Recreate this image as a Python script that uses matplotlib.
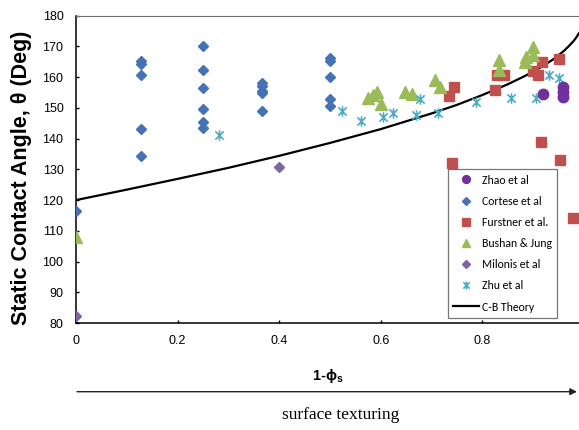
import numpy as np
import matplotlib
matplotlib.use("Agg")
import matplotlib.pyplot as plt
from matplotlib.path import Path

plt.rcParams['font.family'] = ['Liberation Sans', 'DejaVu Sans']
plt.rcParams['mathtext.fontset'] = 'custom'
plt.rcParams['mathtext.bf'] = 'Liberation Sans:bold'
plt.rcParams['mathtext.rm'] = 'Liberation Sans:bold'

# measured contact angles vs 1-phi_s
zhao_x = [0.920, 0.959, 0.959, 0.959]
zhao_y = [154.5, 156.8, 155.2, 153.6]

cortese_x = [0.0, 0.127, 0.127, 0.127, 0.127, 0.127,
             0.250, 0.250, 0.250, 0.250, 0.250, 0.250,
             0.367, 0.367, 0.367, 0.367, 0.367,
             0.500, 0.500, 0.500, 0.500, 0.500]
cortese_y = [116.3, 165.1, 164.3, 160.7, 143.0, 134.2,
             170.2, 162.4, 156.6, 149.7, 145.5, 143.3,
             158.2, 157.0, 155.6, 154.8, 149.0,
             166.2, 165.3, 160.2, 153.0, 150.5]

furstner_x = [0.743, 0.735, 0.825, 0.828, 0.843, 0.900, 0.910,
              0.918, 0.950, 0.915, 0.953, 0.741, 0.979]
furstner_y = [156.8, 153.9, 155.8, 160.8, 160.8, 162.0, 160.7,
              164.8, 165.8, 139.0, 132.9, 132.0, 114.1]

bushan_x = [0.0, 0.575, 0.584, 0.593, 0.600, 0.648, 0.662, 0.707,
            0.717, 0.833, 0.833, 0.883, 0.886, 0.900, 0.900]
bushan_y = [108.0, 153.1, 154.2, 155.3, 151.3, 155.3, 154.4, 159.1,
            156.9, 165.6, 162.3, 165.0, 166.7, 169.9, 167.2]

milonis_x = [0.0, 0.400]
milonis_y = [82.2, 130.9]

zhu_x = [0.281, 0.524, 0.560, 0.604, 0.623, 0.669, 0.677, 0.713,
         0.787, 0.856, 0.905, 0.930, 0.950]
zhu_y = [141.2, 149.1, 145.8, 146.9, 148.2, 147.7, 152.8, 148.2,
         152.0, 153.1, 153.1, 160.7, 159.6]

# Cassie-Baxter curve (flat surface angle 120 deg)
cb_x = [0.0, 0.1, 0.2, 0.3, 0.4, 0.5, 0.6, 0.7, 0.75, 0.8, 0.85, 0.88,
        0.9, 0.92, 0.93, 0.94, 0.95, 0.96, 0.97, 0.975, 0.98, 0.985, 0.99]
cb_y = [120.0, 123.4, 126.9, 130.5, 134.4, 138.6, 143.1, 148.2, 151.0,
        154.2, 157.7, 160.1, 161.8, 163.7, 164.8, 165.9, 167.2, 168.5,
        170.1, 171.0, 171.9, 173.0, 174.3]

# asterisk marker: X with a vertical bar
star = Path([(-1, -1), (1, 1), (-1, 1), (1, -1), (0, -1.25), (0, 1.25)],
            [Path.MOVETO, Path.LINETO, Path.MOVETO, Path.LINETO,
             Path.MOVETO, Path.LINETO])

W, H = 579, 430
fig = plt.figure(figsize=(W / 100, H / 100), dpi=100)
ax = fig.add_axes([76 / W, 1 - 323 / H, (W - 76) / W, (323 - 15.7) / H])

ax.plot(zhao_x, zhao_y, 'o', ms=7.5, color='#7030A0', mec='#7030A0', label='Zhao et al', zorder=4)
ax.plot(cortese_x, cortese_y, 'D', ms=5.2, color='#4472B4', mec='#4472B4', label='Cortese et al', zorder=3)
ax.plot(furstner_x, furstner_y, 's', ms=6.8, color='#C0504D', mec='#C0504D', label='Furstner et al.', zorder=3)
ax.plot(bushan_x, bushan_y, '^', ms=8, color='#9BBB59', mec='#9BBB59', label='Bushan & Jung', zorder=3)
ax.plot(milonis_x, milonis_y, 'D', ms=5.2, color='#8064A2', mec='#8064A2', label='Milonis et al', zorder=3)
ax.plot(zhu_x, zhu_y, marker=star, ls='none', ms=7.5, mfc='none', mec='#4BACC6', mew=1.2,
        label='Zhu et al', zorder=3)
ax.plot(cb_x, cb_y, '-', color='black', lw=1.6, label='C-B Theory', zorder=2)

ax.set_xlim(0, 0.99)
ax.set_ylim(80, 180)
ax.set_xticks([0, 0.2, 0.4, 0.6, 0.8])
ax.set_xticklabels(['0', '0.2', '0.4', '0.6', '0.8'])
ax.set_yticks(range(80, 181, 10))
ax.tick_params(direction='in', length=2.5, width=1, labelsize=9, pad=9)

ax.spines['right'].set_visible(False)
ax.spines['top'].set_color('#707070')
for s in ['left', 'bottom']:
    ax.spines[s].set_linewidth(1.1)

ax.set_xlabel(r'1-ϕ$_\mathbf{s}$', fontsize=10.5, fontweight='bold', labelpad=14)
fig.text(22 / W, 1 - 178 / H, 'Static Contact Angle, θ (Deg)', rotation=90,
         ha='center', va='center', fontsize=15.5, fontweight='bold')

leg = ax.legend(loc='upper left', bbox_to_anchor=(447.7 / W, 1 - 169.3 / H),
                bbox_transform=fig.transFigure, borderaxespad=0,
                frameon=True, fancybox=False,
                edgecolor='#555555', markerscale=0.75, handlelength=2.2,
                handletextpad=0.25, labelspacing=0.86, borderpad=0.45,
                prop={'family': ['Carlito', 'Lato'], 'size': 8.5})
leg.get_frame().set_linewidth(0.9)

# "surface texturing" arrow under the axis
ax.annotate('', xy=(577 / W, 1 - 391.7 / H), xytext=(77 / W, 1 - 391.7 / H),
            xycoords='figure fraction', textcoords='figure fraction',
            arrowprops=dict(arrowstyle='-|>', color='#222222', lw=1,
                            mutation_scale=10, shrinkA=0, shrinkB=0))
fig.text(341 / W, 1 - 415 / H, 'surface texturing', ha='center', va='center',
         family=['Liberation Serif'], fontsize=12.5)

fig.savefig('out.png', dpi=100)
